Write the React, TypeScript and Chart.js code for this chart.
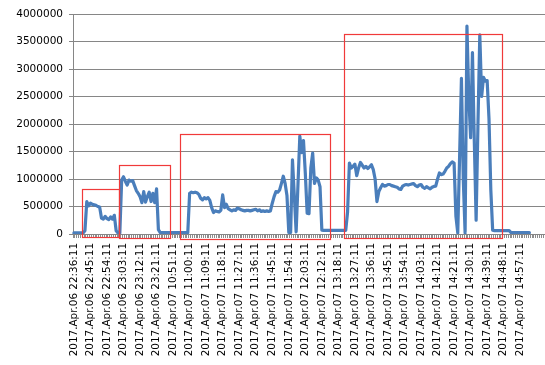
import React, { useEffect, useRef } from 'react';
import { Chart, registerables } from 'chart.js';

Chart.register(...registerables);

const tickLabels = [
  '2017.Apr.06 22:36:11', '2017.Apr.06 22:45:11', '2017.Apr.06 22:54:11', '2017.Apr.06 23:03:11',
  '2017.Apr.06 23:12:11', '2017.Apr.06 23:21:11', '2017.Apr.07 10:51:11', '2017.Apr.07 11:00:11',
  '2017.Apr.07 11:09:11', '2017.Apr.07 11:18:11', '2017.Apr.07 11:27:11', '2017.Apr.07 11:36:11',
  '2017.Apr.07 11:45:11', '2017.Apr.07 11:54:11', '2017.Apr.07 12:03:11', '2017.Apr.07 12:12:11',
  '2017.Apr.07 13:18:11', '2017.Apr.07 13:27:11', '2017.Apr.07 13:36:11', '2017.Apr.07 13:45:11',
  '2017.Apr.07 13:54:11', '2017.Apr.07 14:03:11', '2017.Apr.07 14:12:11', '2017.Apr.07 14:21:11',
  '2017.Apr.07 14:30:11', '2017.Apr.07 14:39:11', '2017.Apr.07 14:48:11', '2017.Apr.07 14:57:11',
];

const labelEvery = 9;

const values: (number | null)[] = [
  // 0-9
  20000, 20000, 20000, 20000, 20000, 20000, 60000, 590000, 510000, 560000,
  // 10-19
  540000, 530000, 520000, 500000, 490000, 290000, 270000, 320000, 280000, 260000,
  // 20-29
  310000, 270000, 340000, 60000, 20000, 20000, 980000, 1040000, 960000, 890000,
  // 30-39
  980000, 960000, 970000, 880000, 790000, 740000, 680000, 570000, 770000, 580000,
  // 40-49
  680000, 760000, 590000, 740000, 570000, 820000, 80000, 25000, 25000, 25000,
  // 50-59
  25000, 25000, 25000, 25000, 25000, 25000, 25000, 25000, 25000, 25000,
  // 60-69
  25000, 25000, 25000, 740000, 760000, 750000, 760000, 750000, 720000, 650000,
  // 70-79
  620000, 660000, 640000, 660000, 610000, 480000, 390000, 420000, 410000, 400000,
  // 80-89
  430000, 710000, 480000, 540000, 460000, 440000, 420000, 440000, 430000, 470000,
  // 90-99
  460000, 440000, 430000, 420000, 430000, 430000, 420000, 430000, 440000, 450000,
  // 100-109
  420000, 440000, 410000, 420000, 410000, 420000, 410000, 420000, 560000, 680000,
  // 110-119
  770000, 760000, 800000, 920000, 1050000, 920000, 700000, 30000, 30000, 1350000,
  // 120-129
  700000, 40000, 900000, 1780000, 1480000, 1700000, 1100000, 380000, 370000, 1200000,
  // 130-139
  1470000, 920000, 1020000, 980000, 860000, 70000, 65000, 65000, 65000, 65000,
  // 140-149
  65000, 65000, 65000, 65000, 65000, 65000, 65000, 65000, 65000, 400000,
  // 150-159
  1290000, 1200000, 1230000, 1270000, 1060000, 1200000, 1300000, 1250000, 1200000, 1230000,
  // 160-169
  1190000, 1220000, 1260000, 1170000, 1000000, 590000, 770000, 840000, 900000, 870000,
  // 170-179
  880000, 900000, 900000, 880000, 870000, 860000, 850000, 820000, 810000, 870000,
  // 180-189
  890000, 900000, 890000, 900000, 910000, 915000, 880000, 860000, 890000, 900000,
  // 190-199
  850000, 830000, 860000, 840000, 820000, 850000, 865000, 870000, 1000000, 1110000,
  // 200-209
  1080000, 1090000, 1140000, 1200000, 1230000, 1280000, 1310000, 1290000, 320000, 20000,
  // 210-219
  1400000, 2830000, 1000000, 20000, 3780000, 2500000, 1750000, 3300000, 1700000, 250000,
  // 220-229
  2000000, 3620000, 2500000, 2850000, 2780000, 2790000, 2100000, 800000, 70000, 60000,
  // 230-239
  60000, 60000, 60000, 60000, 60000, 60000, 60000, 60000, 25000, 25000,
  // 240-249
  25000, 25000, 25000, 25000, 25000, 25000, 25000, 25000, 25000, null,
  // 250-256
  null, null, null, null, null, null, null,
];

// highlight boxes (category positions and value bounds)
const boxStart = [4.6, 24.7, 57.8, 147.2];
const boxEnd = [24.7, 52.5, 139.6, 233.3];
const boxTop = [818000, 1260000, 1818000, 3636000];
const boxBottom = [-62000, -73000, -91000, -73000];

const yMax = 4000000;
const yStep = 500000;

const categories = values.map((_, i) =>
  i % labelEvery === 0 && tickLabels[i / labelEvery] ? tickLabels[i / labelEvery] : ''
);

const boxPlugin = {
  id: 'boxes',
  afterDatasetsDraw(chart: any) {
    const { ctx, scales } = chart;
    const x = scales.x;
    const y = scales.y;
    ctx.save();
    ctx.strokeStyle = '#f03a3a';
    ctx.lineWidth = 1.2;
    boxStart.forEach((s, k) => {
      const x0 = Math.round(x.getPixelForValue(s)) + 0.5;
      const x1 = Math.round(x.getPixelForValue(boxEnd[k])) + 0.5;
      const y0 = Math.round(y.getPixelForValue(boxTop[k])) + 0.5;
      const y1 = Math.round(y.getPixelForValue(boxBottom[k])) + 0.5;
      ctx.strokeRect(x0, y0, x1 - x0, y1 - y0);
    });
    ctx.restore();
  },
};

export default function App() {
  const ref = useRef<HTMLCanvasElement | null>(null);

  useEffect(() => {
    document.body.style.margin = '0';
    if (!ref.current) return;
    const chart = new Chart(ref.current, {
      type: 'line',
      data: {
        labels: categories,
        datasets: [
          {
            data: values,
            borderColor: '#4a7ebb',
            borderWidth: 3.2,
            pointRadius: 0,
            tension: 0,
            borderJoinStyle: 'round',
            borderCapStyle: 'round',
            spanGaps: false,
          },
        ],
      },
      options: {
        animation: false,
        responsive: true,
        maintainAspectRatio: false,
        layout: { padding: { top: 14, right: 0, left: 0, bottom: 0 } },
        plugins: {
          legend: { display: false },
          tooltip: { enabled: false },
        },
        scales: {
          x: {
            type: 'category',
            offset: true,
            grid: {
              display: true,
              drawOnChartArea: false,
              drawTicks: true,
              tickLength: 4,
              offset: true,
              color: '#8c8c8c',
            },
            border: { display: true, color: '#868686' },
            ticks: {
              autoSkip: false,
              minRotation: 90,
              maxRotation: 90,
              padding: 5,
              color: '#000',
              font: { family: 'DejaVu Sans', size: 10.4 },
              callback: (_v: any, i: number) => categories[i],
            },
            afterFit: (scale: any) => {
              scale.height = 131;
              scale.paddingLeft = 0;
              scale.paddingRight = 0;
            },
          },
          y: {
            min: 0,
            max: yMax,
            grid: {
              color: '#868686',
              tickLength: 4,
              lineWidth: 1,
            },
            border: { display: true, color: '#868686' },
            ticks: {
              stepSize: yStep,
              padding: 6,
              color: '#000',
              font: { family: 'DejaVu Sans', size: 10.5 },
              callback: (v: any) => String(v),
            },
            afterFit: (scale: any) => {
              scale.width = 73;
            },
          },
        },
      },
      plugins: [boxPlugin],
    });
    return () => chart.destroy();
  }, []);

  return (
    <div style={{ position: 'absolute', left: 0, top: 0, width: 545, height: 365 }}>
      <canvas ref={ref} />
    </div>
  );
}
